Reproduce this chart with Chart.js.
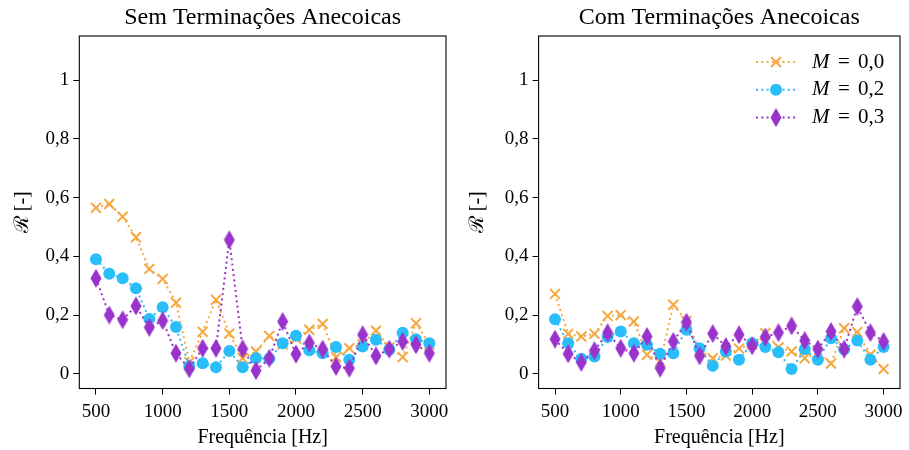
<!DOCTYPE html>
<html>
<head>
<meta charset="utf-8">
<script src="https://cdn.jsdelivr.net/npm/chart.js@4.4.0/dist/chart.umd.min.js"></script>
<style>
    body { margin: 0; background: #fff; }
    #wrap { position: relative; width: 909px; height: 450px; }
    .box { position: absolute; top: 0; }
    #boxLeft { left: 0; }
    #boxRight { left: 455px; }
</style>
</head>
<body>
<div id="wrap">
    <div class="box" id="boxLeft"><canvas id="semChart" width="455" height="450"></canvas></div>
    <div class="box" id="boxRight"><canvas id="comChart" width="454" height="450"></canvas></div>
</div>
<script>
// --- DATA ---
const freqs = [500, 600, 700, 800, 900, 1000, 1100, 1200, 1300, 1400, 1500, 1600, 1700,
               1800, 1900, 2000, 2100, 2200, 2300, 2400, 2500, 2600, 2700, 2800, 2900, 3000];

// Sem Terminações Anecoicas
const semM00 = [0.565, 0.578, 0.535, 0.465, 0.357, 0.323, 0.242, 0.040, 0.143, 0.252, 0.137, 0.053, 0.076,
                0.129, 0.100, 0.120, 0.150, 0.170, 0.057, 0.087, 0.100, 0.147, 0.090, 0.057, 0.172, 0.100];
const semM02 = [0.390, 0.341, 0.325, 0.291, 0.187, 0.227, 0.159, 0.025, 0.036, 0.022, 0.078, 0.022, 0.053,
                0.051, 0.104, 0.130, 0.080, 0.070, 0.091, 0.048, 0.093, 0.116, 0.082, 0.140, 0.118, 0.104];
const semM03 = [0.325, 0.200, 0.184, 0.231, 0.158, 0.181, 0.070, 0.017, 0.087, 0.087, 0.456, 0.085, 0.011,
                0.053, 0.178, 0.067, 0.105, 0.084, 0.025, 0.019, 0.133, 0.061, 0.084, 0.110, 0.099, 0.070];

// Com Terminações Anecoicas
const comM00 = [0.272, 0.136, 0.127, 0.136, 0.197, 0.200, 0.178, 0.065, 0.042, 0.235, 0.180, 0.080, 0.053,
                0.062, 0.086, 0.100, 0.138, 0.090, 0.076, 0.053, 0.070, 0.035, 0.155, 0.142, 0.065, 0.016];
const comM02 = [0.186, 0.104, 0.051, 0.059, 0.125, 0.144, 0.104, 0.099, 0.068, 0.070, 0.150, 0.087, 0.027,
                0.076, 0.048, 0.104, 0.091, 0.073, 0.016, 0.084, 0.048, 0.121, 0.084, 0.113, 0.048, 0.091];
const comM03 = [0.118, 0.068, 0.039, 0.079, 0.140, 0.087, 0.070, 0.127, 0.019, 0.110, 0.176, 0.061, 0.137,
                0.093, 0.133, 0.095, 0.125, 0.140, 0.163, 0.113, 0.084, 0.144, 0.084, 0.229, 0.140, 0.110];

const machLabels = ['0,0', '0,2', '0,3'];
const xTicks = [500, 1000, 1500, 2000, 2500, 3000];
const yTicks = [0, 0.2, 0.4, 0.6, 0.8, 1];

// --- STYLE ---
const FONT = '"Liberation Serif", "Times New Roman", serif';
const colors = ['#F5A842', '#29BDF9', '#9933CC'];

function makeDiamond(color) {
    const c = document.createElement('canvas');
    c.width = 12; c.height = 19;
    const g = c.getContext('2d');
    g.fillStyle = color;
    g.beginPath();
    g.moveTo(6, 0); g.lineTo(11.5, 9.5); g.lineTo(6, 19); g.lineTo(0.5, 9.5);
    g.closePath();
    g.fill();
    return c;
}

const markers = [
    { pointStyle: 'crossRot', radius: 7, borderWidth: 2 },
    { pointStyle: 'circle', radius: 6, borderWidth: 0 },
    { pointStyle: makeDiamond(colors[2]), radius: 8, borderWidth: 0 }
];

function makeDatasets(series) {
    return series.map((vals, i) => ({
        label: 'M = ' + machLabels[i],
        data: freqs.map((f, k) => ({ x: f, y: vals[k] })),
        borderColor: colors[i],
        backgroundColor: colors[i],
        borderWidth: 2,
        borderDash: [2, 3.3],
        pointStyle: markers[i].pointStyle,
        pointRadius: markers[i].radius,
        pointBorderWidth: markers[i].borderWidth,
        pointBorderColor: colors[i],
        pointBackgroundColor: colors[i],
        order: 3 - i,
        tension: 0
    }));
}

// frame around the plot area (all four sides)
const framePlugin = {
    id: 'frame',
    afterDraw(chart) {
        const { ctx, chartArea: a } = chart;
        ctx.save();
        ctx.strokeStyle = '#000';
        ctx.lineWidth = 1.1;
        ctx.strokeRect(a.left, a.top, a.right - a.left, a.bottom - a.top);
        ctx.restore();
    }
};

// legend drawn like the original: dotted line with a marker, italic M
const machLegend = {
    id: 'machLegend',
    afterDraw(chart, args, opts) {
        if (!opts.show) return;
        const ctx = chart.ctx;
        ctx.save();
        chart.data.datasets.forEach((ds, i) => {
            const y = opts.y0 + i * opts.step;
            ctx.strokeStyle = colors[i];
            ctx.fillStyle = colors[i];
            ctx.lineWidth = 2;
            ctx.setLineDash([2, 3.3]);
            ctx.beginPath();
            ctx.moveTo(opts.x0, y);
            ctx.lineTo(opts.x0 + 40, y);
            ctx.stroke();
            ctx.setLineDash([]);
            Chart.helpers.drawPoint(ctx, {
                pointStyle: markers[i].pointStyle,
                radius: markers[i].radius,
                borderWidth: markers[i].borderWidth,
                rotation: 0
            }, opts.x0 + 20, y);
            ctx.fillStyle = '#000';
            ctx.textBaseline = 'middle';
            ctx.font = 'italic 21px ' + FONT;
            ctx.fillText('M', opts.x0 + 56, y);
            ctx.font = '21px ' + FONT;
            ctx.fillText('=', opts.x0 + 82, y);
            ctx.fillText(machLabels[i], opts.x0 + 102, y);
        });
        ctx.restore();
    }
};

function buildChart(canvasId, title, series, yWidth, padRight, showLegend) {
    const ctx = document.getElementById(canvasId).getContext('2d');
    return new Chart(ctx, {
        type: 'line',
        data: { datasets: makeDatasets(series) },
        options: {
            responsive: false,
            animation: false,
            layout: { padding: { left: 0, right: padRight, top: 0, bottom: 0 } },
            scales: {
                x: {
                    type: 'linear',
                    min: 375,
                    max: 3125,
                    afterBuildTicks: s => { s.ticks = xTicks.map(v => ({ value: v })); },
                    afterFit: s => { s.height = 61.5; s.paddingLeft = 0; s.paddingRight = 0; },
                    ticks: {
                        color: '#000',
                        font: { family: FONT, size: 19 },
                        padding: 6,
                        autoSkip: false,
                        maxRotation: 0,
                        callback: v => String(v)
                    },
                    grid: { display: true, drawOnChartArea: false, drawTicks: true, tickLength: 6, color: '#000', tickColor: '#000' },
                    border: { display: false },
                    title: {
                        display: true,
                        text: 'Frequência [Hz]',
                        color: '#000',
                        font: { family: FONT, size: 20 },
                        padding: { top: 0, bottom: 0 }
                    }
                },
                y: {
                    type: 'linear',
                    min: -0.05,
                    max: 1.15,
                    afterBuildTicks: s => { s.ticks = yTicks.map(v => ({ value: v })); },
                    afterFit: s => { s.width = yWidth; s.paddingTop = 0; s.paddingBottom = 0; },
                    ticks: {
                        color: '#000',
                        font: { family: FONT, size: 19 },
                        padding: 4,
                        callback: v => (v === 0 || v === 1) ? String(v) : v.toFixed(1).replace('.', ',')
                    },
                    grid: { display: true, drawOnChartArea: false, drawTicks: true, tickLength: 6, color: '#000', tickColor: '#000' },
                    border: { display: false },
                    title: {
                        display: true,
                        text: 'ℛ [-]',
                        color: '#000',
                        font: { family: FONT, size: 20 },
                        padding: { top: 11, bottom: 0 }
                    }
                }
            },
            plugins: {
                legend: { display: false },
                tooltip: { enabled: false },
                title: {
                    display: true,
                    text: title,
                    color: '#000',
                    fullSize: false,
                    font: { family: FONT, size: 24, weight: 'normal' },
                    padding: { top: 3, bottom: 4.2 }
                },
                machLegend: { show: showLegend, x0: 301, y0: 62, step: 27.8 }
            }
        },
        plugins: [framePlugin, machLegend]
    });
}

window.onload = () => {
    buildChart('semChart', 'Sem Terminações Anecoicas', [semM00, semM02, semM03], 79.3, 8.3, false);
    buildChart('comChart', 'Com Terminações Anecoicas', [comM00, comM02, comM03], 83.6, 3, true);
};
</script>
</body>
</html>
